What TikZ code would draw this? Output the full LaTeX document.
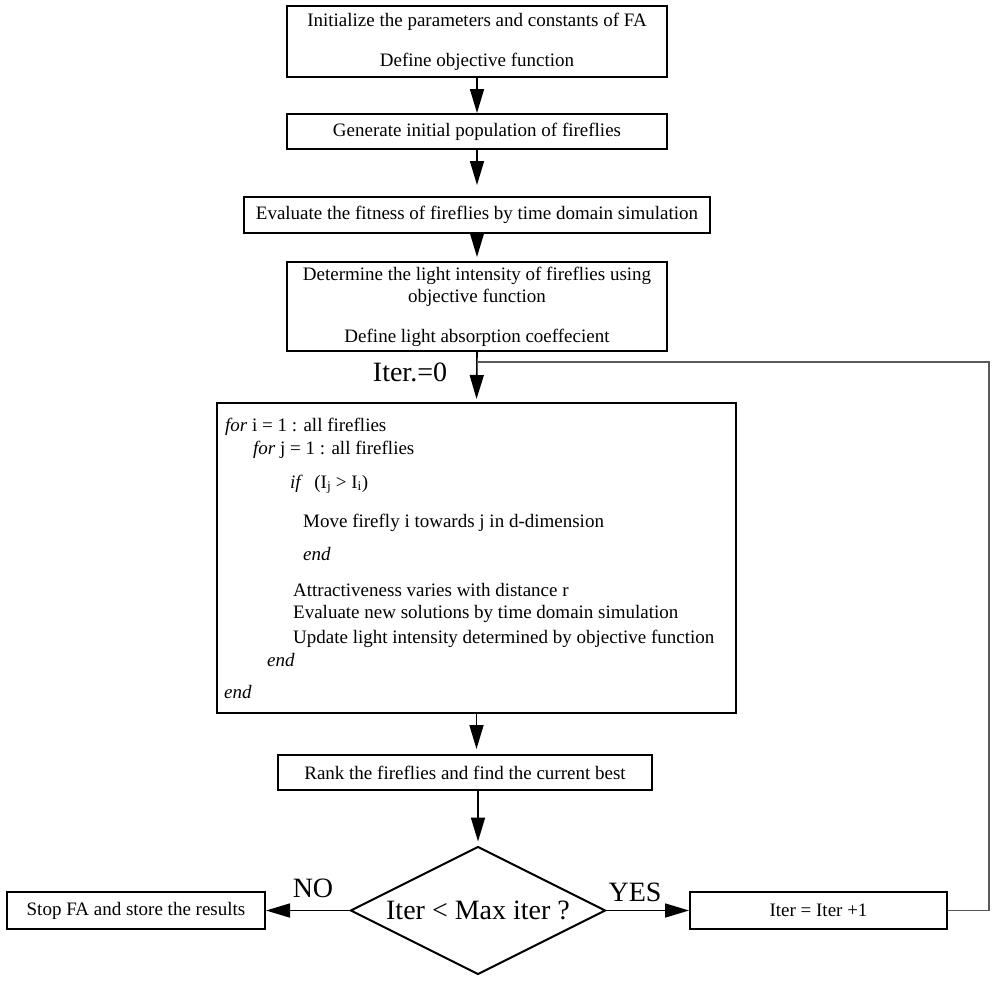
\documentclass[tikz,border=0pt]{standalone}
\usepackage{fontspec}
\setmainfont{Liberation Serif}[Ligatures=NoCommon]
\usetikzlibrary{arrows.meta,shapes.geometric}
\tikzset{
  box/.style={draw,line width=2pt,rectangle,inner sep=0pt,align=center,
    font=\fontsize{19}{22}\selectfont},
  code/.style={anchor=base west,inner sep=0pt,font=\fontsize{19}{22}\selectfont},
  biglabel/.style={inner sep=0pt,font=\fontsize{28}{32}\selectfont},
  conn/.style={line width=1.6pt,-{Triangle[width=14pt,length=24pt]}},
  loopline/.style={line width=1.3pt,draw=black!65},
}
\begin{document}
\begin{tikzpicture}[x=1pt,y=-1pt]
\useasboundingbox (0,0) rectangle (995,983);
% boxes
\node[box,minimum width=380pt,minimum height=71pt] (b1) at (477,41.5)
  {Initialize the parameters and constants of FA\\[18pt]Define objective function};
\node[box,minimum width=380pt,minimum height=35pt] (b2) at (477,131.5)
  {Generate initial population of fireflies};
\node[box,minimum width=466pt,minimum height=36pt] (b3) at (477,215)
  {Evaluate the fitness of fireflies by time domain simulation};
\node[box,minimum width=380pt,minimum height=89pt] (b4) at (477,306.5)
  {Determine the light intensity of fireflies using\\objective function\\[18pt]Define light absorption coeffecient};
\node[box,minimum width=519pt,minimum height=310pt] (big) at (476.5,558) {};
% code lines
\node[code] (l1) at (225,431) {\textit{for} i = 1 : all fireflies};
\node[code] (l2) at (253,454) {\textit{for} j = 1 : all fireflies};
\node[code] (l3) at (290,488) {\textit{if}\hspace{0.6em}(I\textsubscript{j} > I\textsubscript{i})};
\node[code] (l4) at (303,527) {Move firefly i towards j in d-dimension};
\node[code] (l5) at (303,560) {\textit{end}};
\node[code] (l6) at (293,596) {Attractiveness varies with distance r};
\node[code] (l7) at (293,618) {Evaluate new solutions by time domain simulation};
\node[code] (l8) at (293,643) {Update light intensity determined by objective function};
\node[code] (l9) at (267,666) {\textit{end}};
\node[code] (l10) at (224,698) {\textit{end}};
\node[box,minimum width=374pt,minimum height=35pt] (rank) at (465,772.5)
  {Rank the fireflies and find the current best};
\node[draw,diamond,line width=2pt,inner sep=0pt,aspect=2,minimum width=255pt,
  minimum height=128pt,font=\fontsize{28}{32}\selectfont] (dia) at (478,910.5)
  {Iter < Max iter ?};
\node[box,minimum width=258pt,minimum height=37pt] (stop) at (136,910.5)
  {Stop FA and store the results};
\node[box,minimum width=257pt,minimum height=37pt] (inc) at (818.5,910.5)
  {Iter = Iter +1};
% labels
\node[biglabel] (it0) at (410,372) {Iter.=0};
\node[biglabel] (no) at (313,888) {NO};
\node[biglabel] (yes) at (635,892) {YES};
% connectors
\draw[conn] (b1.south) -- (b2.north);
\draw[conn,shorten >=11pt] (b2.south) -- (b3.north);
\draw[conn,shorten >=4pt] (b3.south) -- (b4.north);
\draw[conn,shorten >=3pt] (b4.south) -- (big.north);
\draw[conn,shorten >=5pt] (big.south) -- (big.south |- rank.north);
\draw[conn,shorten >=4pt] (rank.south -| dia.north) -- (dia.north);
\draw[conn] (dia.west) -- (dia.west -| stop.east);
\draw[conn] (dia.east) -- (dia.east -| inc.west);
\coordinate (lc) at (989,362);
\draw[loopline] (inc.east) -| (lc) -- (lc -| b4.south);
\end{tikzpicture}
\end{document}
